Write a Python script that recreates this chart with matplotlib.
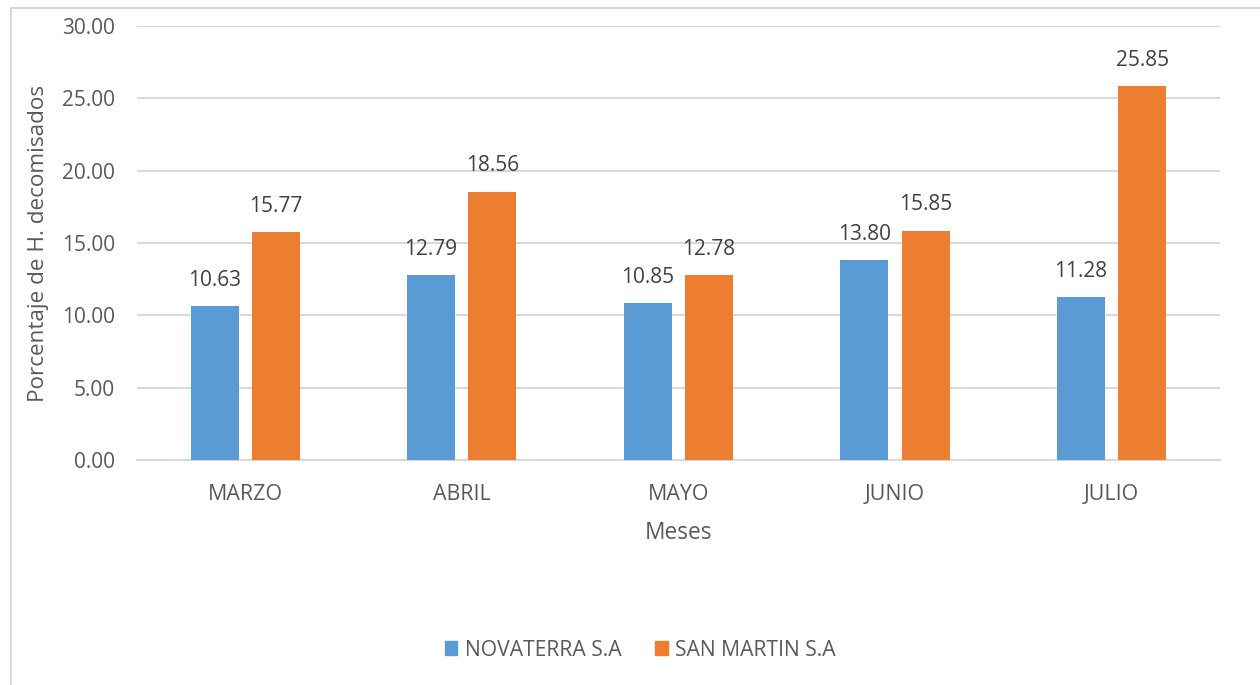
"""Porcentaje de hígados decomisados por mes y empresa."""

import numpy as np
import matplotlib

matplotlib.use("Agg")
from matplotlib import pyplot as plt
from matplotlib.lines import Line2D
from matplotlib.patches import Patch

meses = ["MARZO", "ABRIL", "MAYO", "JUNIO", "JULIO"]
novaterra = [10.63, 12.79, 10.85, 13.80, 11.28]
san_martin = [15.77, 18.56, 12.78, 15.85, 25.85]
empresas = ["NOVATERRA S.A", "SAN MARTIN S.A"]

AZUL = "#5b9bd5"
NARANJA = "#ed7d31"
GRIS_TEXTO = "#595959"
GRIS_ETIQUETA = "#404040"
GRIS_REJILLA = "#d9d9d9"

plt.rcParams["font.family"] = ["Open Sans", "DejaVu Sans"]

fig = plt.figure(figsize=(12.6, 6.85), dpi=100)
ax = fig.add_axes([0.1087, 0.3285, 0.8593, 0.6335])

x = np.arange(len(meses))
ancho = 0.222
desplazamiento = 0.1417

barras_a = ax.bar(x - desplazamiento, novaterra, ancho, color=AZUL, zorder=3)
barras_b = ax.bar(x + desplazamiento, san_martin, ancho, color=NARANJA, zorder=3)

for barras, valores in ((barras_a, novaterra), (barras_b, san_martin)):
    for barra, valor in zip(barras, valores):
        ax.annotate(
            f"{valor:.2f}",
            (barra.get_x() + barra.get_width() / 2, valor),
            xytext=(0, 11),
            textcoords="offset points",
            ha="center",
            va="bottom",
            fontsize=15,
            color=GRIS_ETIQUETA,
        )

ax.set_xlim(-0.5, len(meses) - 0.5)
ax.set_ylim(0, 30)
ax.set_yticks(np.arange(0, 30.1, 5))
ax.set_yticklabels([f"{v:.2f}" for v in np.arange(0, 30.1, 5)])
ax.set_xticks(x)
ax.set_xticklabels(meses)

ax.grid(axis="y", color=GRIS_REJILLA, linewidth=1.5, zorder=0)
ax.set_axisbelow(True)
for lado in ("top", "right", "left"):
    ax.spines[lado].set_visible(False)
ax.spines["bottom"].set_color(GRIS_REJILLA)
ax.spines["bottom"].set_linewidth(1.5)
ax.tick_params(axis="both", length=0, labelcolor=GRIS_TEXTO)
ax.tick_params(axis="y", pad=16, labelsize=15)
ax.tick_params(axis="x", pad=17, labelsize=15.4)

ax.set_xlabel("Meses", fontsize=16.4, color=GRIS_TEXTO, labelpad=12)
ax.set_ylabel("Porcentaje de H. decomisados", fontsize=16.2, color=GRIS_TEXTO, labelpad=9)

# marco del gráfico (solo lados superior e izquierdo quedan a la vista)
fig.add_artist(Line2D([11 / 1260, 1.0], [1 - 8 / 685] * 2, color="#d9d9d9",
                      linewidth=1.5, transform=fig.transFigure))
fig.add_artist(Line2D([11 / 1260] * 2, [1 - 8 / 685, 0.0], color="#d9d9d9",
                      linewidth=1.5, transform=fig.transFigure))

fig.legend(
    handles=[Patch(color=AZUL), Patch(color=NARANJA)],
    labels=empresas,
    loc="center",
    bbox_to_anchor=(0.508, 1 - 650 / 685),
    ncol=2,
    frameon=False,
    fontsize=15.2,
    labelcolor=GRIS_TEXTO,
    handlelength=0.6,
    handleheight=0.6,
    handletextpad=0.35,
    columnspacing=1.6,
)

fig.savefig("out.png", dpi=100, facecolor="white")
